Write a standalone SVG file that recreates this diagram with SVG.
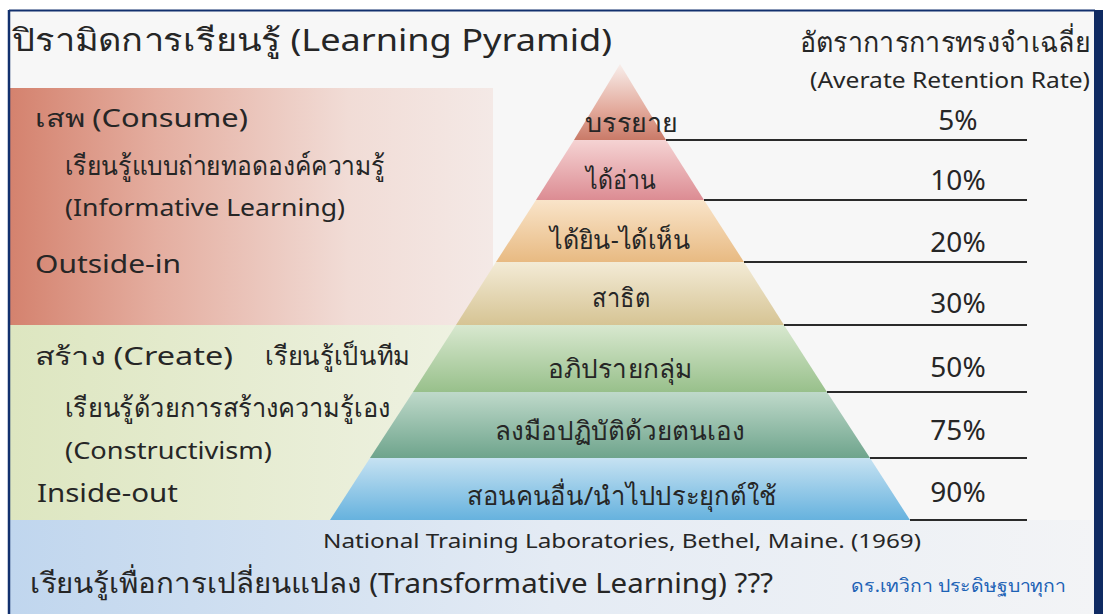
<svg xmlns="http://www.w3.org/2000/svg" width="1103" height="614" viewBox="0 0 1103 614">
<defs>
<style>
.t{font-family:"Noto Sans","DejaVu Sans",sans-serif;fill:#262626}
.pct{font-family:"Noto Sans","DejaVu Sans",sans-serif;fill:#262626;font-size:28px;text-anchor:middle}
.lab{font-family:"Noto Sans","DejaVu Sans",sans-serif;fill:#262626;font-size:26px;text-anchor:middle}
.ln{stroke:#2a2a2a;stroke-width:2}
</style>
<linearGradient id="gPink" x1="0" y1="0" x2="1" y2="0">
<stop offset="0" stop-color="#d4826e"/>
<stop offset="0.3" stop-color="#e4ad9f"/>
<stop offset="0.7" stop-color="#f1dcd6"/>
<stop offset="1" stop-color="#f4e9e6"/>
</linearGradient>
<linearGradient id="gGreen" x1="0" y1="0" x2="1" y2="0">
<stop offset="0" stop-color="#dde6c0"/>
<stop offset="1" stop-color="#eff2e3"/>
</linearGradient>
<linearGradient id="gBlue" x1="0" y1="0" x2="1" y2="0">
<stop offset="0" stop-color="#c0d6ee"/>
<stop offset="0.5" stop-color="#e4ebf4"/>
<stop offset="1" stop-color="#f3f4f6"/>
</linearGradient>
<linearGradient id="b1" x1="0" y1="0" x2="0" y2="1"><stop offset="0" stop-color="#f8eeeb"/><stop offset="0.6" stop-color="#e3aa9c"/><stop offset="1" stop-color="#c97a68"/></linearGradient>
<linearGradient id="b2" x1="0" y1="0" x2="0" y2="1"><stop offset="0" stop-color="#f5d3d3"/><stop offset="1" stop-color="#dc8c93"/></linearGradient>
<linearGradient id="b3" x1="0" y1="0" x2="0" y2="1"><stop offset="0" stop-color="#f9e4c9"/><stop offset="1" stop-color="#e8ba82"/></linearGradient>
<linearGradient id="b4" x1="0" y1="0" x2="0" y2="1"><stop offset="0" stop-color="#f3ebd6"/><stop offset="1" stop-color="#d6c494"/></linearGradient>
<linearGradient id="b5" x1="0" y1="0" x2="0" y2="1"><stop offset="0" stop-color="#d8e8cf"/><stop offset="1" stop-color="#98c08b"/></linearGradient>
<linearGradient id="b6" x1="0" y1="0" x2="0" y2="1"><stop offset="0" stop-color="#bfd9ca"/><stop offset="1" stop-color="#6ea48c"/></linearGradient>
<linearGradient id="b7" x1="0" y1="0" x2="0" y2="1"><stop offset="0" stop-color="#c6e2f2"/><stop offset="1" stop-color="#66b2de"/></linearGradient>
</defs>

<rect x="0" y="0" width="1103" height="614" fill="#ffffff"/>
<rect x="9" y="11" width="1086" height="603" fill="#f7f7f7"/>

<g id="panel-consume">
<rect x="10" y="88" width="483" height="237" fill="url(#gPink)"/>
<text class="t" x="35" y="127" font-size="25" textLength="213" lengthAdjust="spacingAndGlyphs">เสพ (Consume)</text>
<text class="t" x="65" y="175" font-size="27" textLength="320" lengthAdjust="spacingAndGlyphs">เรียนรู้แบบถ่ายทอดองค์ความรู้</text>
<text class="t" x="65" y="216" font-size="24" textLength="280" lengthAdjust="spacingAndGlyphs">(Informative Learning)</text>
<text class="t" x="35" y="273" font-size="26" textLength="146" lengthAdjust="spacingAndGlyphs">Outside-in</text>
</g>

<g id="panel-create">
<rect x="10" y="325" width="470" height="195" fill="url(#gGreen)"/>
<text class="t" x="35" y="365" font-size="25" textLength="198" lengthAdjust="spacingAndGlyphs">สร้าง (Create)</text>
<text class="t" x="265" y="365" font-size="26" textLength="145" lengthAdjust="spacingAndGlyphs">เรียนรู้เป็นทีม</text>
<text class="t" x="65" y="417" font-size="27" textLength="325" lengthAdjust="spacingAndGlyphs">เรียนรู้ด้วยการสร้างความรู้เอง</text>
<text class="t" x="65" y="459" font-size="24" textLength="207" lengthAdjust="spacingAndGlyphs">(Constructivism)</text>
<text class="t" x="37" y="502" font-size="26" textLength="141" lengthAdjust="spacingAndGlyphs">Inside-out</text>
</g>

<g id="panel-transform">
<rect x="10" y="520" width="1085" height="94" fill="url(#gBlue)"/>
<text class="t" x="323" y="548" font-size="19" textLength="598" lengthAdjust="spacingAndGlyphs">National Training Laboratories, Bethel, Maine. (1969)</text>
<text class="t" x="30" y="593" font-size="28" textLength="743" lengthAdjust="spacingAndGlyphs">เรียนรู้เพื่อการเปลี่ยนแปลง (Transformative Learning) ???</text>
<text class="t" x="851" y="592" font-size="18" style="fill:#1d62b5" textLength="215" lengthAdjust="spacingAndGlyphs">ดร.เทวิกา ประดิษฐบาทุกา</text>
</g>

<g id="title">
<text class="t" x="12" y="51" font-size="31" textLength="600" lengthAdjust="spacingAndGlyphs">ปิรามิดการเรียนรู้ (Learning Pyramid)</text>
<text class="t" x="800" y="52" font-size="28" textLength="290" lengthAdjust="spacingAndGlyphs">อัตราการการทรงจำเฉลี่ย</text>
<text class="t" x="810" y="88" font-size="21" textLength="280" lengthAdjust="spacingAndGlyphs">(Averate Retention Rate)</text>
</g>

<g id="pyramid">
<g id="layer-1"><polygon points="620,64 666,140 574,140" fill="url(#b1)"/><text class="lab" x="631" y="132" textLength="93" lengthAdjust="spacingAndGlyphs">บรรยาย</text></g>
<g id="layer-2"><polygon points="574,140 666,140 704,200 536,200" fill="url(#b2)"/><text class="lab" x="621" y="189" textLength="70" lengthAdjust="spacingAndGlyphs">ได้อ่าน</text></g>
<g id="layer-3"><polygon points="536,200 704,200 744,262 496,262" fill="url(#b3)"/><text class="lab" x="620" y="249" textLength="140" lengthAdjust="spacingAndGlyphs">ได้ยิน-ได้เห็น</text></g>
<g id="layer-4"><polygon points="496,262 744,262 784,325 456,325" fill="url(#b4)"/><text class="lab" x="621" y="307" textLength="58" lengthAdjust="spacingAndGlyphs">สาธิต</text></g>
<g id="layer-5"><polygon points="456,325 784,325 827,392 413,392" fill="url(#b5)"/><text class="lab" x="620" y="378" textLength="144" lengthAdjust="spacingAndGlyphs">อภิปรายกลุ่ม</text></g>
<g id="layer-6"><polygon points="413,392 827,392 870,458 370,458" fill="url(#b6)"/><text class="lab" x="620" y="440" textLength="250" lengthAdjust="spacingAndGlyphs">ลงมือปฏิบัติด้วยตนเอง</text></g>
<g id="layer-7"><polygon points="370,458 870,458 910,520 330,520" fill="url(#b7)"/><text class="lab" x="622" y="505" textLength="310" lengthAdjust="spacingAndGlyphs">สอนคนอื่น/นำไปประยุกต์ใช้</text></g>
</g>

<g id="connectors">
<line class="ln" x1="666" y1="140" x2="1027" y2="140"/>
<line class="ln" x1="704" y1="200" x2="1027" y2="200"/>
<line class="ln" x1="744" y1="262" x2="1027" y2="262"/>
<line class="ln" x1="784" y1="325" x2="1027" y2="325"/>
<line class="ln" x1="827" y1="392" x2="1027" y2="392"/>
<line class="ln" x1="870" y1="458" x2="1027" y2="458"/>
<line class="ln" x1="910" y1="520" x2="1027" y2="520"/>
</g>

<g id="rates">
<text class="pct" x="958" y="130">5%</text>
<text class="pct" x="958" y="190">10%</text>
<text class="pct" x="958" y="252">20%</text>
<text class="pct" x="958" y="313">30%</text>
<text class="pct" x="958" y="377">50%</text>
<text class="pct" x="958" y="440">75%</text>
<text class="pct" x="958" y="502">90%</text>
</g>

<g id="frame">
<line x1="9" y1="10.5" x2="1095" y2="10.5" stroke="#12306e" stroke-width="2"/>
<line x1="9" y1="10" x2="9" y2="614" stroke="#12306e" stroke-width="2.5"/>
<rect x="1094" y="10" width="9" height="604" fill="#0f2a62"/>
</g>
</svg>
